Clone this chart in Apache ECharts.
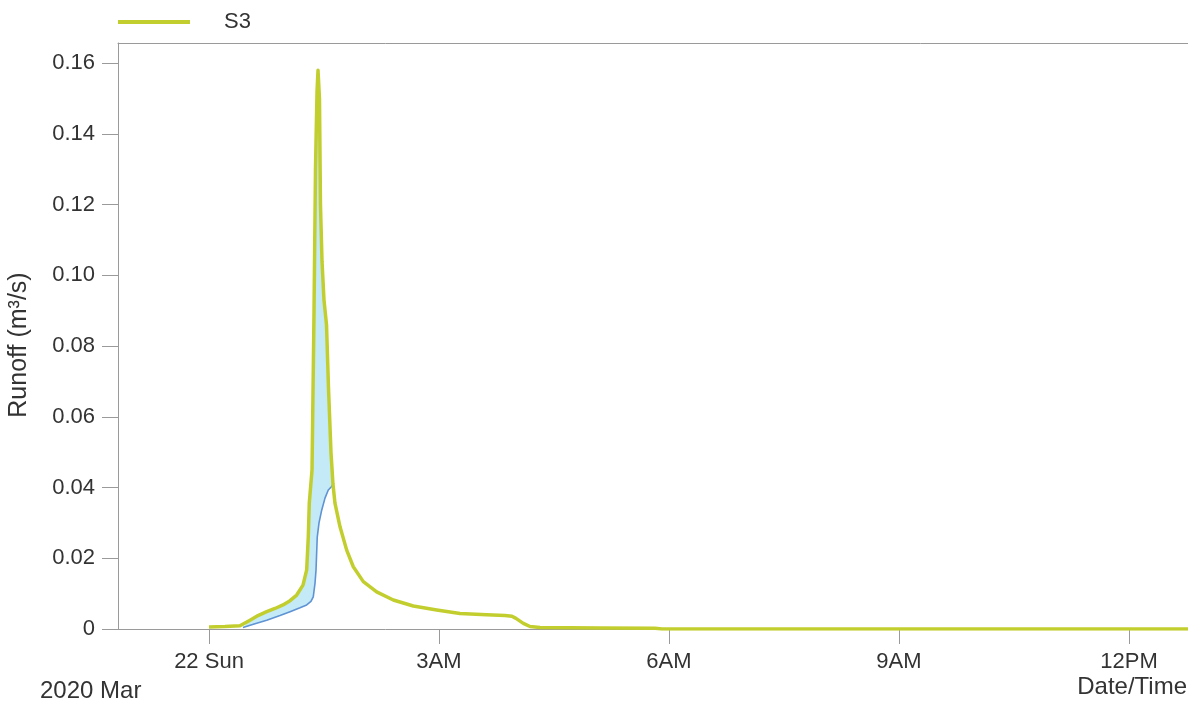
<!DOCTYPE html>
<html><head><meta charset="utf-8">
<script src="https://cdn.jsdelivr.net/npm/echarts@6/dist/echarts.min.js"></script>
<style>html,body{margin:0;padding:0;background:#fff}#c{width:1188px;height:705px}</style>
</head><body><div id="c"></div>
<script>
// Time in hours since 2020-03-22 00:00
const seriesName = 'S3';
const xTickHours = [0, 3, 6, 9, 12];
const xTickLabels = ['22 Sun', '3AM', '6AM', '9AM', '12PM'];
const yTicks = [0, 0.02, 0.04, 0.06, 0.08, 0.10, 0.12, 0.14, 0.16];
const xRange = [-1.187, 12.770];
const yMax = 0.1657;

const s3Hours = [0.000, 0.209, 0.404, 0.535, 0.639, 0.753, 0.861, 0.965, 1.057, 1.144, 1.226, 1.274, 1.295, 1.308, 1.344,
  1.370, 1.389, 1.409, 1.422, 1.441, 1.454, 1.474, 1.500, 1.533, 1.559, 1.591, 1.617, 1.643, 1.709, 1.796, 1.882,
  2.013, 2.187, 2.404, 2.665, 2.970, 3.274, 3.622, 3.861, 3.952, 4.004, 4.100, 4.187, 4.317, 5.100, 5.817, 5.909, 13.0];
const s3Runoff = [0.0006, 0.0007, 0.0009, 0.0025, 0.0038, 0.0049, 0.0058, 0.0068, 0.0080, 0.0096, 0.0124, 0.0167, 0.0260, 0.0356, 0.0450,
  0.0900, 0.1300, 0.1520, 0.1580, 0.1500, 0.1200, 0.1040, 0.0930, 0.0860, 0.0680, 0.0500, 0.0410, 0.0356, 0.0289, 0.0223, 0.0176,
  0.0134, 0.0105, 0.0082, 0.0065, 0.0054, 0.0044, 0.0040, 0.0038, 0.0036, 0.0030, 0.0016, 0.0007, 0.0004, 0.0003, 0.0002, 0.0000, 0.0000];

const baseHours = [0.443, 0.600, 0.753, 0.926, 1.057, 1.187, 1.274, 1.330, 1.360, 1.383, 1.396, 1.412, 1.435, 1.470, 1.513, 1.556, 1.600, 1.617];
const baseRunoff = [0.0004, 0.0015, 0.0025, 0.0038, 0.0049, 0.0060, 0.0068, 0.0078, 0.0091, 0.0130, 0.0167, 0.0260, 0.0300, 0.0336, 0.0370, 0.0393, 0.0403, 0.0410];

const axisGray = '#9a9a9a';
const textColor = '#333';
const fontFam = '"Liberation Sans", Arial, sans-serif';
const fs = 22;

const s3Data = s3Hours.map((t, i) => [t, s3Runoff[i]]);
const baseData = baseHours.map((t, i) => [t, baseRunoff[i]]);

const chart = echarts.init(document.getElementById('c'), null, {renderer: 'canvas'});
chart.setOption({
  animation: false,
  backgroundColor: '#fff',
  textStyle: {fontFamily: fontFam},
  grid: {left: 118, top: 43, right: 0, bottom: 76, show: false, containLabel: false, outerBoundsMode: 'none'},
  legend: {
    left: 113, top: 6, data: [seriesName], icon: 'rect', itemWidth: 72, itemHeight: 4,
    textStyle: {fontSize: fs, color: textColor, fontFamily: fontFam, padding: [0, 0, 0, 29]}
  },
  xAxis: [{
    type: 'value', min: xRange[0], max: xRange[1],
    axisLine: {show: true, onZero: false, lineStyle: {color: axisGray, width: 1}},
    axisTick: {show: true, length: 15, customValues: xTickHours, lineStyle: {color: axisGray}},
    splitLine: {show: false},
    axisLabel: {
      customValues: xTickHours, margin: 22, fontSize: fs, color: textColor, fontFamily: fontFam,
      formatter: v => { const i = xTickHours.indexOf(v); return i >= 0 ? xTickLabels[i] : ''; }
    }
  }, {
    type: 'value', position: 'top', min: xRange[0], max: xRange[1],
    axisLine: {show: true, onZero: false, lineStyle: {color: axisGray, width: 1}},
    axisTick: {show: false}, axisLabel: {show: false}, splitLine: {show: false}
  }],
  yAxis: {
    type: 'value', min: 0, max: yMax,
    name: 'Runoff (m³/s)', nameLocation: 'middle', nameGap: 86,
    nameTextStyle: {fontSize: 25, color: textColor, fontFamily: fontFam, padding: [0, 18, 0, 0]},
    axisLine: {show: true, onZero: false, lineStyle: {color: axisGray, width: 1}},
    axisTick: {show: true, length: 16, customValues: yTicks, lineStyle: {color: axisGray}},
    splitLine: {show: false},
    axisLabel: {
      customValues: yTicks, margin: 23, fontSize: fs, color: textColor, fontFamily: fontFam,
      formatter: v => v === 0 ? '0' : v.toFixed(2)
    }
  },
  graphic: [
    {type: 'text', left: 40, top: 679, style: {text: '2020 Mar', fontSize: 24, fill: textColor, fontFamily: fontFam}},
    {type: 'text', right: 1, top: 675, style: {text: 'Date/Time', fontSize: 24, fill: textColor, fontFamily: fontFam}}
  ],
  series: [
    {
      type: 'custom', name: 'band', silent: true, z: 1, clip: true,
      data: [[0, 0]],
      renderItem: function (params, api) {
        const t0 = baseHours[0], t1 = baseHours[baseHours.length - 1];
        const pts = [];
        pts.push(api.coord([t0, baseRunoff[0]]));
        for (let i = 0; i < s3Hours.length; i++) {
          if (s3Hours[i] >= t0 && s3Hours[i] <= t1) pts.push(api.coord([s3Hours[i], s3Runoff[i]]));
        }
        for (let i = baseHours.length - 1; i >= 0; i--) pts.push(api.coord([baseHours[i], baseRunoff[i]]));
        return {type: 'polygon', shape: {points: pts}, style: {fill: '#c3eaf6', stroke: null}};
      }
    },
    {
      type: 'line', name: 'base', data: baseData, showSymbol: false, z: 2, silent: true,
      lineStyle: {color: '#5f93d3', width: 1.6}
    },
    {
      type: 'line', name: seriesName, data: s3Data, showSymbol: false, z: 3,
      itemStyle: {color: '#c2ce2e'},
      lineStyle: {color: '#c2ce2e', width: 3.5, join: 'round'}
    }
  ]
});
</script>
</body></html>
